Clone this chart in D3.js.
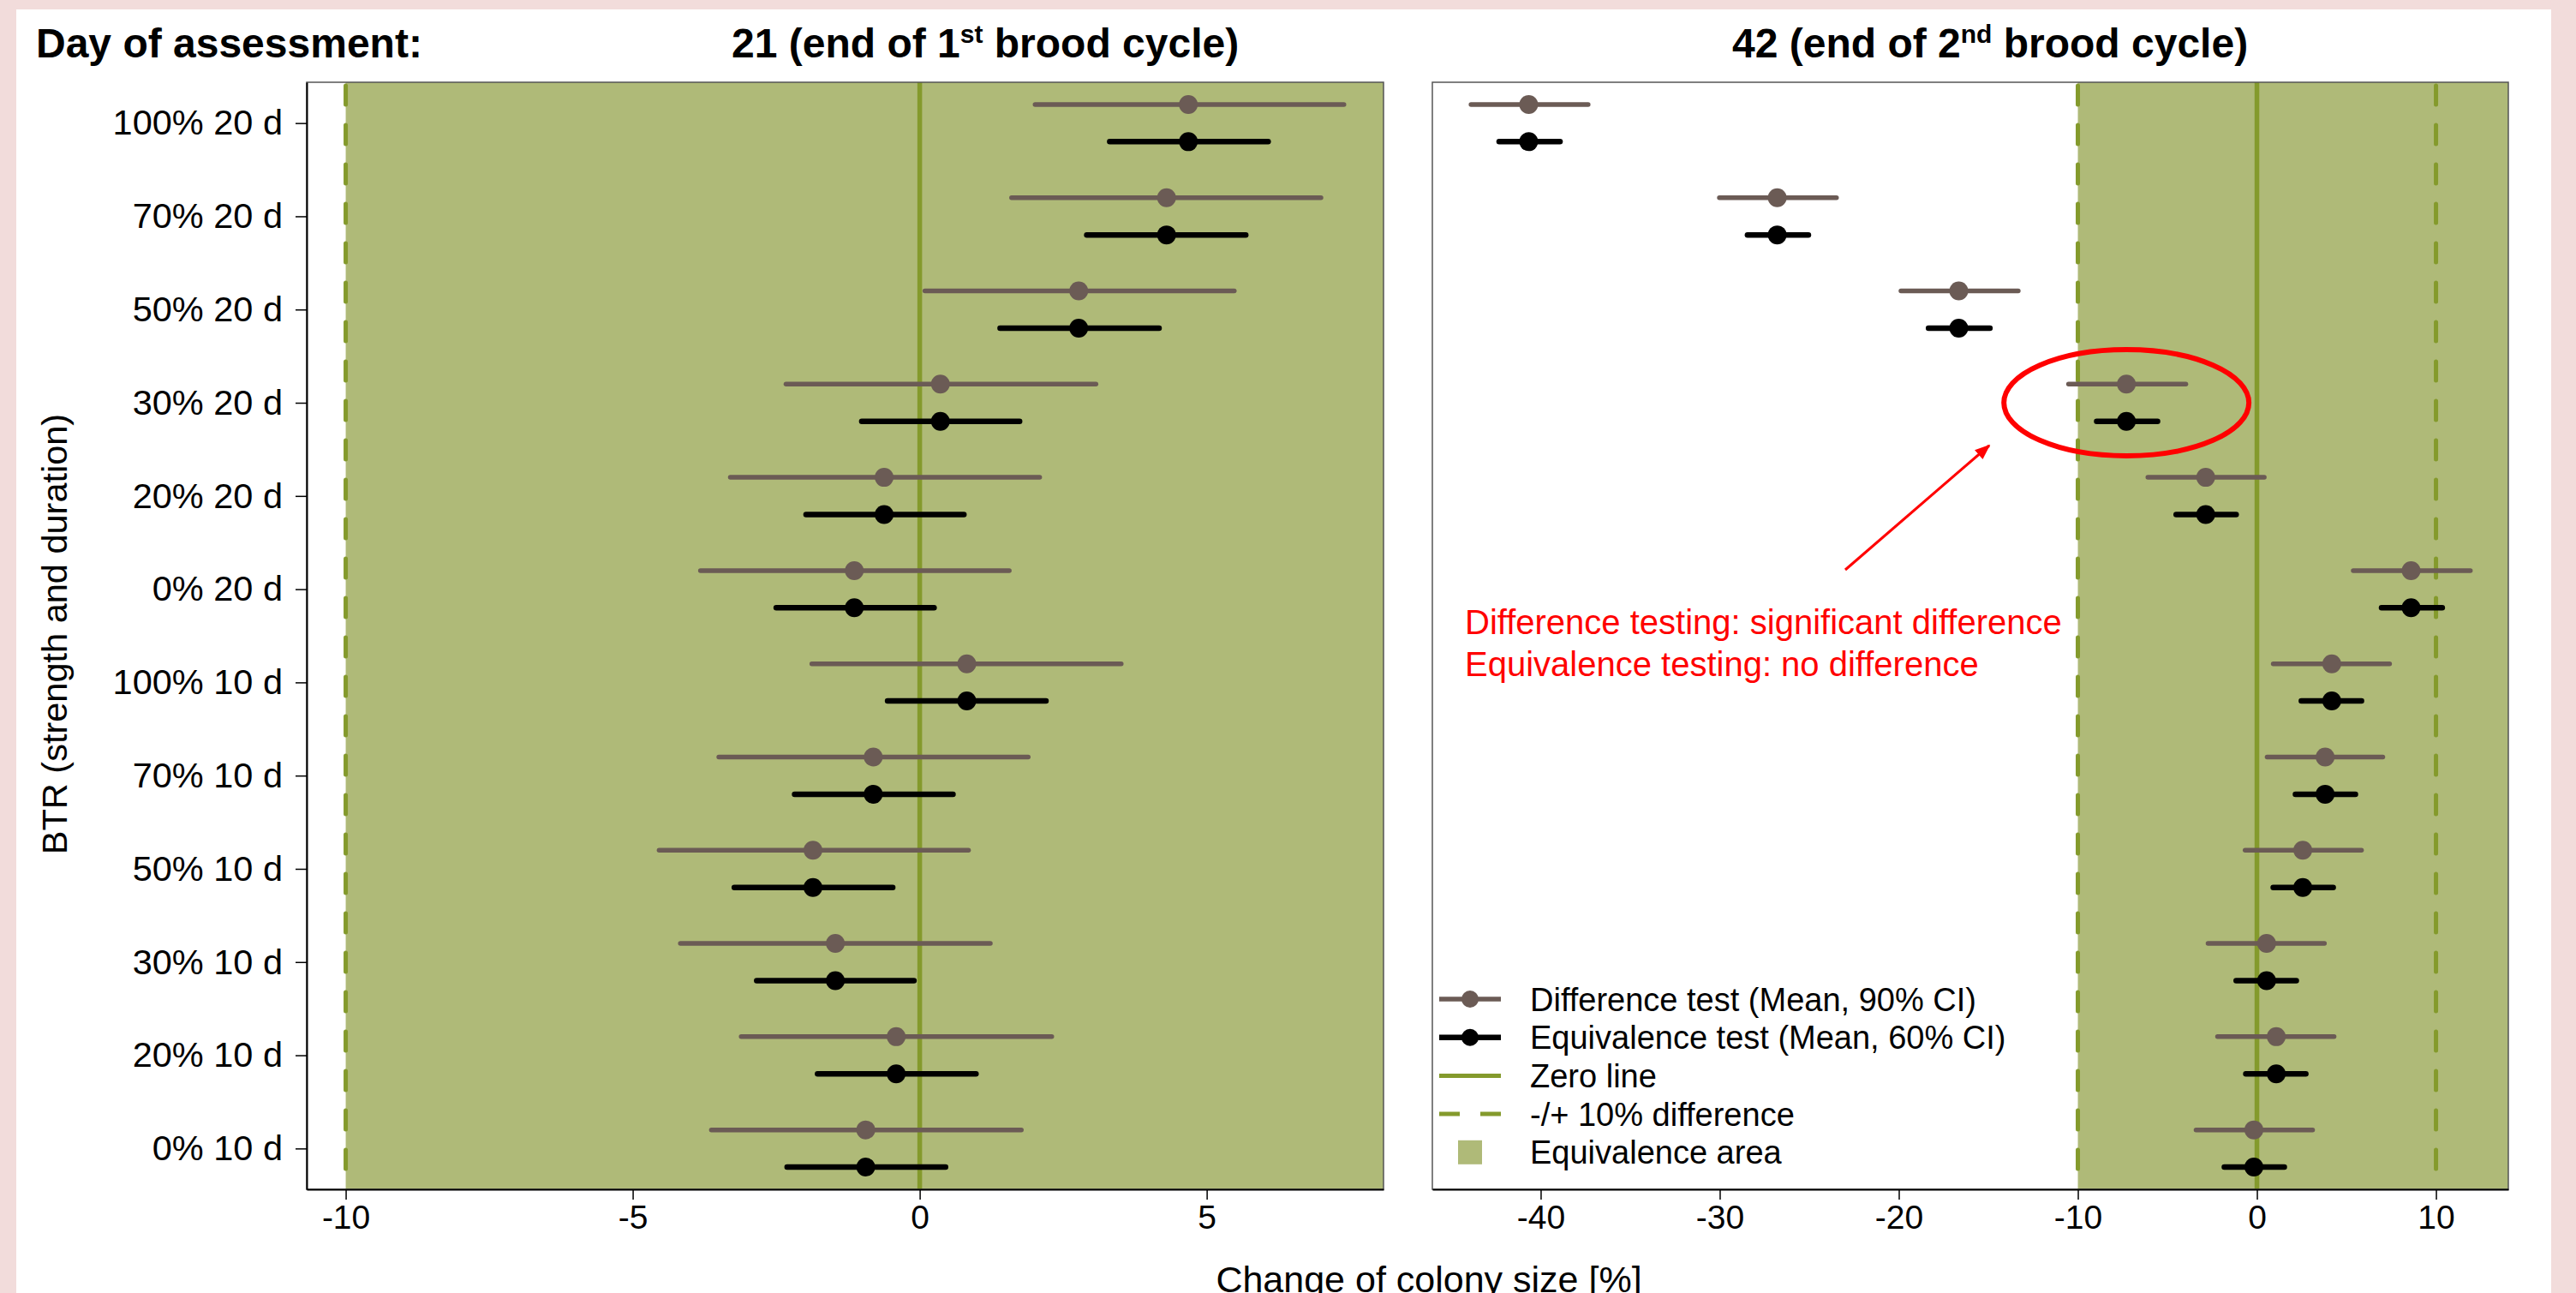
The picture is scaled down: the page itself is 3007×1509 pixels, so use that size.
<!DOCTYPE html>
<html lang="en">
<head>
	<meta charset="UTF-8">
	<title>Change of colony size</title>
	<style>
		body { margin: 0; background: #f2dcdb; }
		text { font-family: "Liberation Sans", Arial, sans-serif; }
	</style>
</head>
<body>
	<script src="https://cdn.jsdelivr.net/npm/d3@7/dist/d3.min.js"></script>

	<script type="text/javascript">

		// categories, top to bottom
		var categories = ["100% 20 d", "70% 20 d", "50% 20 d", "30% 20 d", "20% 20 d", "0% 20 d",
		                  "100% 10 d", "70% 10 d", "50% 10 d", "30% 10 d", "20% 10 d", "0% 10 d"];

		// day 21 (mean, 90% CI for difference test, 60% CI for equivalence test)
		var mean21   = [4.68, 4.30, 2.77, 0.36, -0.62, -1.14, 0.82, -0.81, -1.86, -1.47, -0.41, -0.94];
		var diffLo21 = [2.01, 1.60, 0.09, -2.33, -3.30, -3.82, -1.88, -3.50, -4.54, -4.17, -3.11, -3.63];
		var diffHi21 = [7.39, 6.99, 5.48, 3.07, 2.09, 1.56, 3.51, 1.89, 0.85, 1.23, 2.30, 1.77];
		var eqLo21   = [3.31, 2.91, 1.40, -1.01, -1.98, -2.50, -0.56, -2.18, -3.23, -2.84, -1.78, -2.31];
		var eqHi21   = [6.07, 5.68, 4.17, 1.74, 0.77, 0.25, 2.20, 0.58, -0.47, -0.10, 0.98, 0.45];

		// day 42
		var mean42   = [-40.67, -26.79, -16.65, -7.29, -2.86, 8.61, 4.18, 3.81, 2.56, 0.54, 1.08, -0.17];
		var diffLo42 = [-43.89, -30.02, -19.88, -10.52, -6.09, 5.38, 0.91, 0.57, -0.66, -2.73, -2.20, -3.40];
		var diffHi42 = [-37.35, -23.48, -13.33, -3.97, 0.41, 11.92, 7.41, 7.03, 5.84, 3.77, 4.31, 3.11];
		var eqLo42   = [-42.32, -28.45, -18.34, -8.95, -4.51, 6.96, 2.48, 2.15, 0.91, -1.16, -0.62, -1.82];
		var eqHi42   = [-38.92, -25.05, -14.91, -5.55, -1.16, 10.35, 5.84, 5.50, 4.26, 2.20, 2.73, 1.53];

		// tick labels
		var ticks21 = [-10, -5, 0, 5];
		var ticks42 = [-40, -30, -20, -10, 0, 10];
		var equivLimits = [-10, 10];

		var legendLabels = ["Difference test (Mean, 90% CI)", "Equivalence test (Mean, 60% CI)",
		                    "Zero line", "-/+ 10% difference", "Equivalence area"];

		var width = 3007;
		var height = 1509;

		var colGreen = "#afba78";	// equivalence area
		var colOlive = "#849a2c";	// zero / 10% lines
		var colDiff = "#6b5b55";	// difference test
		var colEq = "#000000";		// equivalence test
		var fontFam = "'Liberation Sans', Arial, sans-serif";

		var svg = d3.select("body")
					.append("svg")
					.attr("width", width)
					.attr("height", height);

		// pink frame + white sheet
		svg.append("rect").attr("width", width).attr("height", height).attr("fill", "#f2dcdb");
		svg.append("rect").attr("x", 19).attr("y", 11).attr("width", 2959).attr("height", height - 11).attr("fill", "#ffffff");

		var plotTop = 96, plotBottom = 1388;
		var y = d3.scalePoint().domain(categories).range([plotTop, plotBottom]).padding(0.438);
		var off = 21.7;	// gap between the two estimates of one row

		function panel(x, mean, dLo, dHi, eLo, eHi, ticks, showY) {
			var x0 = x.range()[0], x1 = x.range()[1];
			var g = svg.append("g");

			// equivalence area (from -10 to the right edge)
			g.append("rect")
			 .attr("x", x(equivLimits[0]))
			 .attr("y", plotTop)
			 .attr("width", x1 - x(equivLimits[0]))
			 .attr("height", plotBottom - plotTop)
			 .attr("fill", colGreen);

			// -/+ 10% lines
			g.selectAll(".lim")
			 .data(equivLimits.filter(function(d) { return d >= x.domain()[0] && d <= x.domain()[1]; }))
			 .enter().append("line")
			 .attr("x1", function(d) { return x(d); })
			 .attr("x2", function(d) { return x(d); })
			 .attr("y1", plotTop + 4)
			 .attr("y2", plotBottom)
			 .attr("stroke", colOlive)
			 .attr("stroke-width", 5)
			 .attr("stroke-linecap", "round")
			 .attr("stroke-dasharray", "22,24");

			// zero line
			g.append("line")
			 .attr("x1", x(0)).attr("x2", x(0))
			 .attr("y1", plotTop).attr("y2", plotBottom)
			 .attr("stroke", colOlive)
			 .attr("stroke-width", 5.5);

			// difference test (90% CI)
			g.selectAll(".dseg").data(categories).enter().append("line")
			 .attr("x1", function(d, i) { return x(dLo[i]); })
			 .attr("x2", function(d, i) { return x(dHi[i]); })
			 .attr("y1", function(d) { return y(d) - off; })
			 .attr("y2", function(d) { return y(d) - off; })
			 .attr("stroke", colDiff)
			 .attr("stroke-width", 5.5)
			 .attr("stroke-linecap", "round");

			g.selectAll(".dpt").data(categories).enter().append("circle")
			 .attr("cx", function(d, i) { return x(mean[i]); })
			 .attr("cy", function(d) { return y(d) - off; })
			 .attr("r", 11)
			 .attr("fill", colDiff);

			// equivalence test (60% CI)
			g.selectAll(".eseg").data(categories).enter().append("line")
			 .attr("x1", function(d, i) { return x(eLo[i]); })
			 .attr("x2", function(d, i) { return x(eHi[i]); })
			 .attr("y1", function(d) { return y(d) + off; })
			 .attr("y2", function(d) { return y(d) + off; })
			 .attr("stroke", colEq)
			 .attr("stroke-width", 6.5)
			 .attr("stroke-linecap", "round");

			g.selectAll(".ept").data(categories).enter().append("circle")
			 .attr("cx", function(d, i) { return x(mean[i]); })
			 .attr("cy", function(d) { return y(d) + off; })
			 .attr("r", 11)
			 .attr("fill", colEq);

			// box
			g.append("rect")
			 .attr("x", x0).attr("y", plotTop)
			 .attr("width", x1 - x0).attr("height", plotBottom - plotTop)
			 .attr("fill", "none")
			 .attr("stroke", "#555")
			 .attr("stroke-width", 1.5);

			// x axis
			var ax = g.append("g")
					  .attr("transform", "translate(0," + plotBottom + ")")
					  .call(d3.axisBottom(x).tickValues(ticks).tickSize(12).tickSizeOuter(0).tickPadding(6)
					  .tickFormat(function(d) { return d < 0 ? "-" + Math.abs(d) : d; }));
			ax.select(".domain").attr("stroke", "#000").attr("stroke-width", 2);
			ax.selectAll(".tick line").attr("stroke", "#000").attr("stroke-width", 1.5);
			ax.selectAll("text").attr("font-size", 39).attr("fill", "#000").style("font-family", fontFam);

			// y axis (left panel only)
			if (showY) {
				var ay = g.append("g")
						  .attr("transform", "translate(" + x0 + ",0)")
						  .call(d3.axisLeft(y).tickSize(13).tickSizeOuter(0).tickPadding(15));
				ay.select(".domain").attr("stroke", "#000").attr("stroke-width", 2);
				ay.selectAll(".tick line").attr("stroke", "#000").attr("stroke-width", 1.5);
				ay.selectAll("text").attr("font-size", 41.5).attr("fill", "#000").style("font-family", fontFam);
			}
			return g;
		}

		var x21 = d3.scaleLinear().domain([-10.68, 8.08]).range([358, 1615]);
		var x42 = d3.scaleLinear().domain([-46.05, 14.04]).range([1672, 2928]);

		panel(x21, mean21, diffLo21, diffHi21, eqLo21, eqHi21, ticks21, true);
		panel(x42, mean42, diffLo42, diffHi42, eqLo42, eqHi42, ticks42, false);

		// titles
		svg.append("text").attr("x", 42).attr("y", 67)
		   .attr("font-size", 48).attr("font-weight", "bold").text("Day of assessment:");

		function title(xPos, head, sup) {
			var t = svg.append("text").attr("x", xPos).attr("y", 67)
					   .attr("font-size", 48).attr("font-weight", "bold");
			t.append("tspan").text(head);
			t.append("tspan").attr("font-size", 30).attr("dy", -17).text(sup);
			t.append("tspan").attr("dy", 17).text(" brood cycle)");
		}
		title(854, "21 (end of 1", "st");
		title(2022, "42 (end of 2", "nd");

		// axis titles
		svg.append("text").attr("x", 1668).attr("y", 1508)
		   .attr("text-anchor", "middle").attr("font-size", 43)
		   .text("Change of colony size [%]");

		svg.append("text")
		   .attr("transform", "translate(78,740) rotate(-90)")
		   .attr("text-anchor", "middle").attr("font-size", 41.5)
		   .text("BTR (strength and duration)");

		// annotation
		svg.append("ellipse")
		   .attr("cx", x42(mean42[3])).attr("cy", y(categories[3]))
		   .attr("rx", 143).attr("ry", 62)
		   .attr("fill", "none").attr("stroke", "#ff0000").attr("stroke-width", 6);

		svg.append("defs").append("marker")
		   .attr("id", "arrow").attr("viewBox", "0 0 10 10")
		   .attr("refX", 9).attr("refY", 5)
		   .attr("markerWidth", 6).attr("markerHeight", 6)
		   .attr("orient", "auto")
		   .append("path").attr("d", "M0,1L10,5L0,9Z").attr("fill", "#ff0000");

		svg.append("line")
		   .attr("x1", 2154).attr("y1", 665)
		   .attr("x2", 2322).attr("y2", 520)
		   .attr("stroke", "#ff0000").attr("stroke-width", 3)
		   .attr("marker-end", "url(#arrow)");

		svg.append("text").attr("x", 1710).attr("y", 740).attr("font-size", 40).attr("fill", "#ff0000")
		   .text("Difference testing: significant difference");
		svg.append("text").attr("x", 1710).attr("y", 789).attr("font-size", 40).attr("fill", "#ff0000")
		   .text("Equivalence testing: no difference");

		// legend
		var legend = svg.append("g").attr("transform", "translate(1680,1166)");
		var rowH = 44.7;
		var items = legend.selectAll("g").data(legendLabels).enter().append("g")
						  .attr("transform", function(d, i) { return "translate(0," + i * rowH + ")"; });

		items.each(function(d, i) {
			var it = d3.select(this);
			if (i < 2) {
				var c = i === 0 ? colDiff : colEq;
				it.append("line").attr("x1", 0).attr("x2", 72)
				  .attr("stroke", c).attr("stroke-width", i === 0 ? 5.5 : 6.5);
				it.append("circle").attr("cx", 36).attr("r", 10).attr("fill", c);
			} else if (i < 4) {
				it.append("line").attr("x1", 0).attr("x2", 72)
				  .attr("stroke", colOlive).attr("stroke-width", 5)
				  .attr("stroke-dasharray", i === 3 ? "24,24" : null);
			} else {
				it.append("rect").attr("x", 22).attr("y", -14).attr("width", 28).attr("height", 28)
				  .attr("fill", colGreen);
			}
			it.append("text").attr("x", 106).attr("dy", "0.36em")
			  .attr("font-size", 38).text(d);
		});

	</script>
</body>
</html>
